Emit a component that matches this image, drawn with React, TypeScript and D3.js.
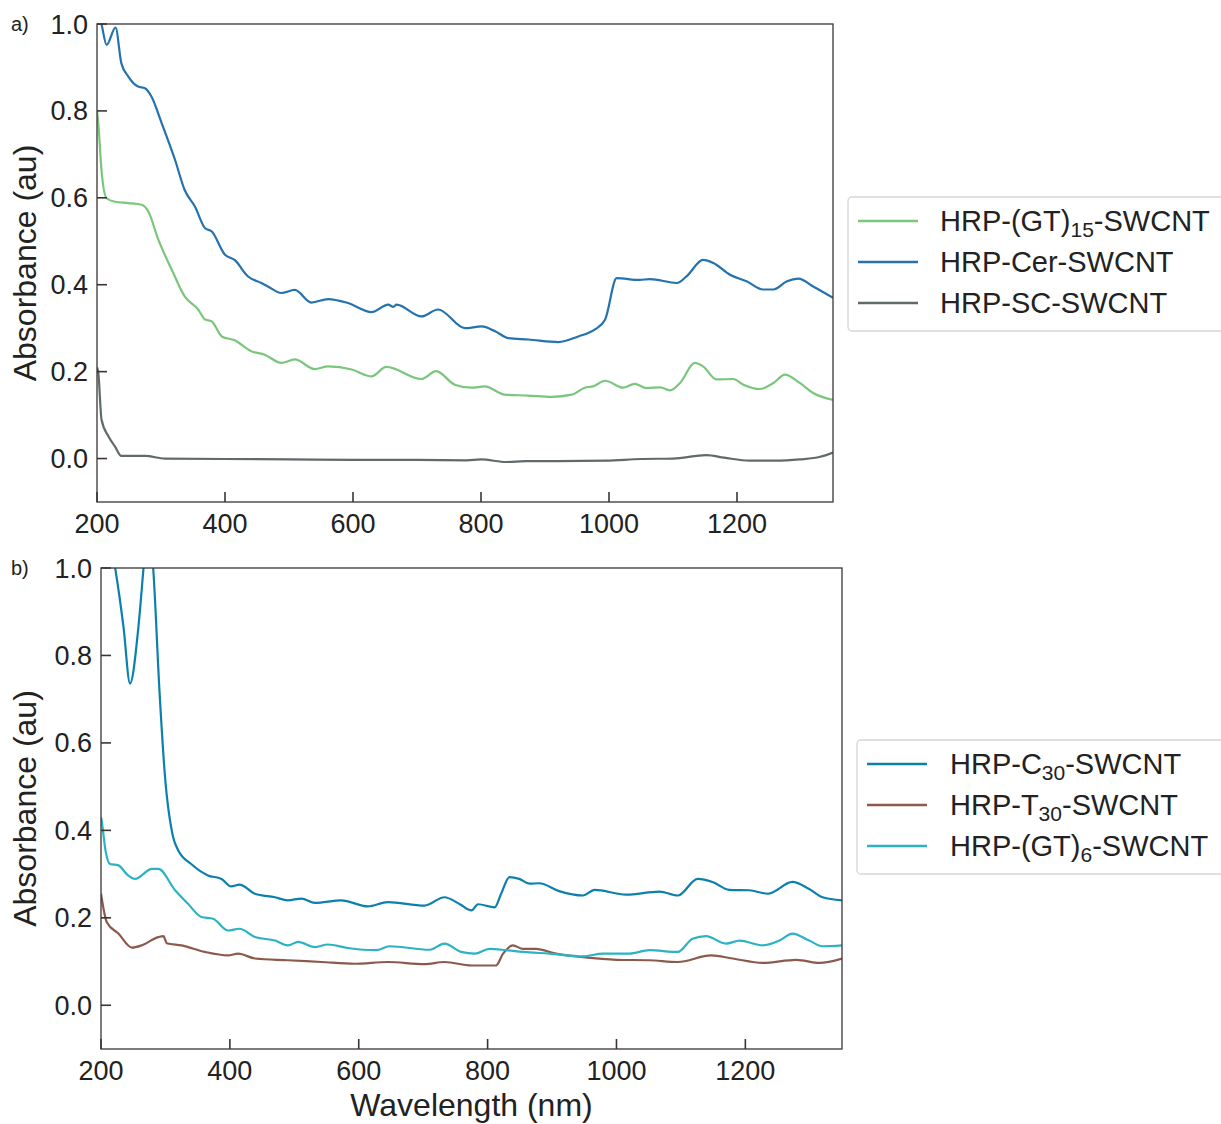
import React from "react";
import * as d3 from "d3";

// ---------- data (panel a) ----------
const cerX = [200,207,215,229,238,249,264,275,285,301,322,337,353,369,379,400,415,436,457,467,488,509,535,561,592,629,655,663,668,707,733,775,801,822,843,874,921,952,978,994,1012,1048,1064,1106,1121,1147,1163,1189,1215,1241,1257,1278,1296,1319,1350];
const cerY = [1.04,1.0,0.952,0.992,0.91,0.879,0.856,0.852,0.833,0.772,0.687,0.618,0.58,0.53,0.523,0.469,0.457,0.419,0.404,0.396,0.381,0.388,0.359,0.367,0.358,0.337,0.354,0.349,0.354,0.327,0.343,0.3,0.304,0.293,0.277,0.274,0.268,0.281,0.297,0.32,0.415,0.411,0.413,0.404,0.419,0.457,0.45,0.423,0.408,0.389,0.389,0.408,0.414,0.396,0.37];
const gt15X = [200,202,207,215,228,249,270,280,296,317,337,358,369,379,395,415,441,462,488,509,540,561,598,629,652,707,730,759,785,806,837,874,910,942,962,975,994,1022,1040,1059,1080,1095,1111,1134,1147,1168,1194,1210,1236,1257,1275,1298,1319,1350];
const gt15Y = [0.8,0.772,0.664,0.599,0.591,0.588,0.584,0.569,0.503,0.434,0.373,0.343,0.32,0.316,0.281,0.272,0.247,0.239,0.22,0.228,0.206,0.212,0.205,0.189,0.211,0.183,0.201,0.17,0.163,0.166,0.147,0.145,0.142,0.147,0.163,0.166,0.179,0.163,0.172,0.162,0.164,0.157,0.174,0.22,0.212,0.182,0.183,0.17,0.16,0.174,0.193,0.174,0.151,0.135];
const scX = [200,202,207,218,228,238,275,306,400,500,600,700,778,800,840,870,920,996,1050,1100,1152,1180,1220,1260,1298,1330,1350];
const scY = [0.21,0.198,0.09,0.051,0.028,0.006,0.006,0.0,-0.001,-0.002,-0.003,-0.003,-0.004,-0.002,-0.008,-0.006,-0.006,-0.005,-0.001,0.0,0.008,0.002,-0.005,-0.005,-0.002,0.004,0.014];

// ---------- data (panel b) ----------
const c30X = [200,222,235,245,258,266,273,281,291,299,312,320,340,366,387,402,415,439,470,490,511,532,573,614,645,702,733,757,775,785,811,821,834,849,865,880,911,948,966,1015,1067,1095,1126,1149,1175,1206,1235,1273,1299,1320,1350];
const c30Y = [1.15,1.0,0.864,0.736,0.864,1.0,1.12,1.0,0.712,0.529,0.384,0.354,0.323,0.297,0.289,0.272,0.276,0.255,0.247,0.24,0.244,0.234,0.24,0.226,0.236,0.228,0.247,0.231,0.217,0.231,0.224,0.255,0.293,0.289,0.278,0.279,0.261,0.251,0.264,0.253,0.26,0.251,0.289,0.282,0.264,0.263,0.255,0.282,0.266,0.247,0.24];
const t30X = [200,209,227,248,263,289,297,302,325,361,397,413,439,490,542,594,645,702,733,775,813,824,839,855,875,906,948,1000,1051,1095,1147,1180,1227,1279,1315,1350];
const t30Y = [0.255,0.19,0.164,0.132,0.137,0.156,0.158,0.142,0.137,0.122,0.114,0.118,0.107,0.103,0.099,0.095,0.099,0.094,0.099,0.091,0.091,0.118,0.137,0.129,0.129,0.118,0.11,0.104,0.103,0.099,0.114,0.107,0.097,0.104,0.097,0.107];
const gt6X = [200,201,207,214,227,242,253,279,289,315,335,356,374,397,415,439,470,490,506,532,552,583,627,648,710,733,759,780,803,829,855,896,948,979,1020,1051,1095,1118,1139,1170,1191,1227,1253,1273,1299,1320,1350];
const gt6Y = [0.43,0.422,0.354,0.323,0.32,0.297,0.289,0.312,0.312,0.263,0.232,0.202,0.198,0.171,0.175,0.156,0.148,0.137,0.145,0.133,0.139,0.131,0.126,0.135,0.127,0.141,0.122,0.118,0.129,0.126,0.122,0.118,0.112,0.118,0.118,0.126,0.122,0.152,0.158,0.141,0.148,0.137,0.148,0.164,0.148,0.135,0.137];

const xTicks = [200, 400, 600, 800, 1000, 1200];
const yTicks = [0.0, 0.2, 0.4, 0.6, 0.8, 1.0];

const FONT = "'Liberation Sans', Arial, sans-serif";
const AXIS = "#3a3533";

type Series = { name: string; sub?: string; pre: string; post: string; color: string; xs: number[]; ys: number[] };

const seriesA: Series[] = [
  { name: "gt15", pre: "HRP-(GT)", sub: "15", post: "-SWCNT", color: "#79c67c", xs: gt15X, ys: gt15Y },
  { name: "cer", pre: "HRP-Cer-SWCNT", post: "", color: "#2472ae", xs: cerX, ys: cerY },
  { name: "sc", pre: "HRP-SC-SWCNT", post: "", color: "#5f6a6b", xs: scX, ys: scY },
];
const seriesB: Series[] = [
  { name: "c30", pre: "HRP-C", sub: "30", post: "-SWCNT", color: "#0c80ac", xs: c30X, ys: c30Y },
  { name: "t30", pre: "HRP-T", sub: "30", post: "-SWCNT", color: "#8c5a4c", xs: t30X, ys: t30Y },
  { name: "gt6", pre: "HRP-(GT)", sub: "6", post: "-SWCNT", color: "#2cb3c3", xs: gt6X, ys: gt6Y },
];

type PanelProps = {
  id: string; left: number; top: number; right: number; bottom: number;
  series: Series[]; label: string; legend: { x: number; y: number; w: number; lineX: number; textX: number; rowY: number[] };
  xLabel?: boolean;
};

function Panel(p: PanelProps) {
  const x = d3.scaleLinear().domain([200, 1350]).range([p.left, p.right]);
  const y = d3.scaleLinear().domain([-0.1, 1.0]).range([p.bottom, p.top]);
  const line = d3.line<[number, number]>().x(d => x(d[0])).y(d => y(d[1])).curve(d3.curveMonotoneX);
  const tickLen = 10;
  return (
    <g>
      <defs>
        <clipPath id={p.id}>
          <rect x={p.left} y={p.top} width={p.right - p.left} height={p.bottom - p.top} />
        </clipPath>
      </defs>
      <g clipPath={`url(#${p.id})`}>
        {p.series.map(s => (
          <path key={s.name} d={line(s.xs.map((v, i) => [v, s.ys[i]] as [number, number])) || ""}
            fill="none" stroke={s.color} strokeWidth={2.2} strokeLinejoin="round" />
        ))}
      </g>
      <rect x={p.left} y={p.top} width={p.right - p.left} height={p.bottom - p.top} fill="none" stroke={AXIS} strokeWidth={1.3} />
      {yTicks.map(t => (
        <g key={"y" + t}>
          <line x1={p.left} x2={p.left + tickLen} y1={y(t)} y2={y(t)} stroke={AXIS} strokeWidth={1.6} />
          <text x={p.left - 9} y={y(t) + 9.5} textAnchor="end" fontSize={27} fontFamily={FONT} fill="#222">{t.toFixed(1)}</text>
        </g>
      ))}
      {xTicks.map(t => (
        <g key={"x" + t}>
          <line x1={x(t)} x2={x(t)} y1={p.bottom} y2={p.bottom - tickLen} stroke={AXIS} strokeWidth={1.6} />
          <text x={x(t)} y={p.bottom + 31} textAnchor="middle" fontSize={27} fontFamily={FONT} fill="#222">{t}</text>
        </g>
      ))}
      <text transform={`translate(36,${(p.top + p.bottom) / 2}) rotate(-90)`} textAnchor="middle" fontSize={32} fontFamily={FONT} fill="#222">Absorbance (au)</text>
      <text x={11} y={p.top + 7} fontSize={20} fontFamily={FONT} fill="#222">{p.label}</text>
      {p.xLabel && (
        <text x={(p.left + p.right) / 2} y={p.bottom + 67} textAnchor="middle" fontSize={32} fontFamily={FONT} fill="#222">Wavelength (nm)</text>
      )}
      <rect x={p.legend.x} y={p.legend.y} width={p.legend.w} height={134} rx={4} fill="#fff" stroke="#d6d6d6" strokeWidth={1.3} />
      {p.series.map((s, i) => (
        <g key={"lg" + s.name}>
          <line x1={p.legend.lineX} x2={p.legend.lineX + 60} y1={p.legend.rowY[i]} y2={p.legend.rowY[i]} stroke={s.color} strokeWidth={2.4} />
          <text x={p.legend.textX} y={p.legend.rowY[i] + 10} fontSize={29} fontFamily={FONT} fill="#222">
            {s.pre}
            {s.sub && <tspan fontSize={21} dy={6}>{s.sub}</tspan>}
            {s.sub && <tspan dy={-6}>{s.post}</tspan>}
          </text>
        </g>
      ))}
    </g>
  );
}

export default function App() {
  return (
    <svg width={1221} height={1124} style={{ position: "absolute", left: 0, top: 0, background: "#fff" }}>
      <rect x={0} y={0} width={1221} height={1124} fill="#fff" />
      <Panel id="clipA" left={97} top={24} right={833} bottom={502} series={seriesA} label="a)"
        legend={{ x: 848, y: 197, w: 390, lineX: 858, textX: 940, rowY: [221, 262, 303] }} />
      <Panel id="clipB" left={101} top={568} right={842} bottom={1049} series={seriesB} label="b)" xLabel
        legend={{ x: 857, y: 740, w: 390, lineX: 867, textX: 950, rowY: [764, 805, 846] }} />
    </svg>
  );
}
